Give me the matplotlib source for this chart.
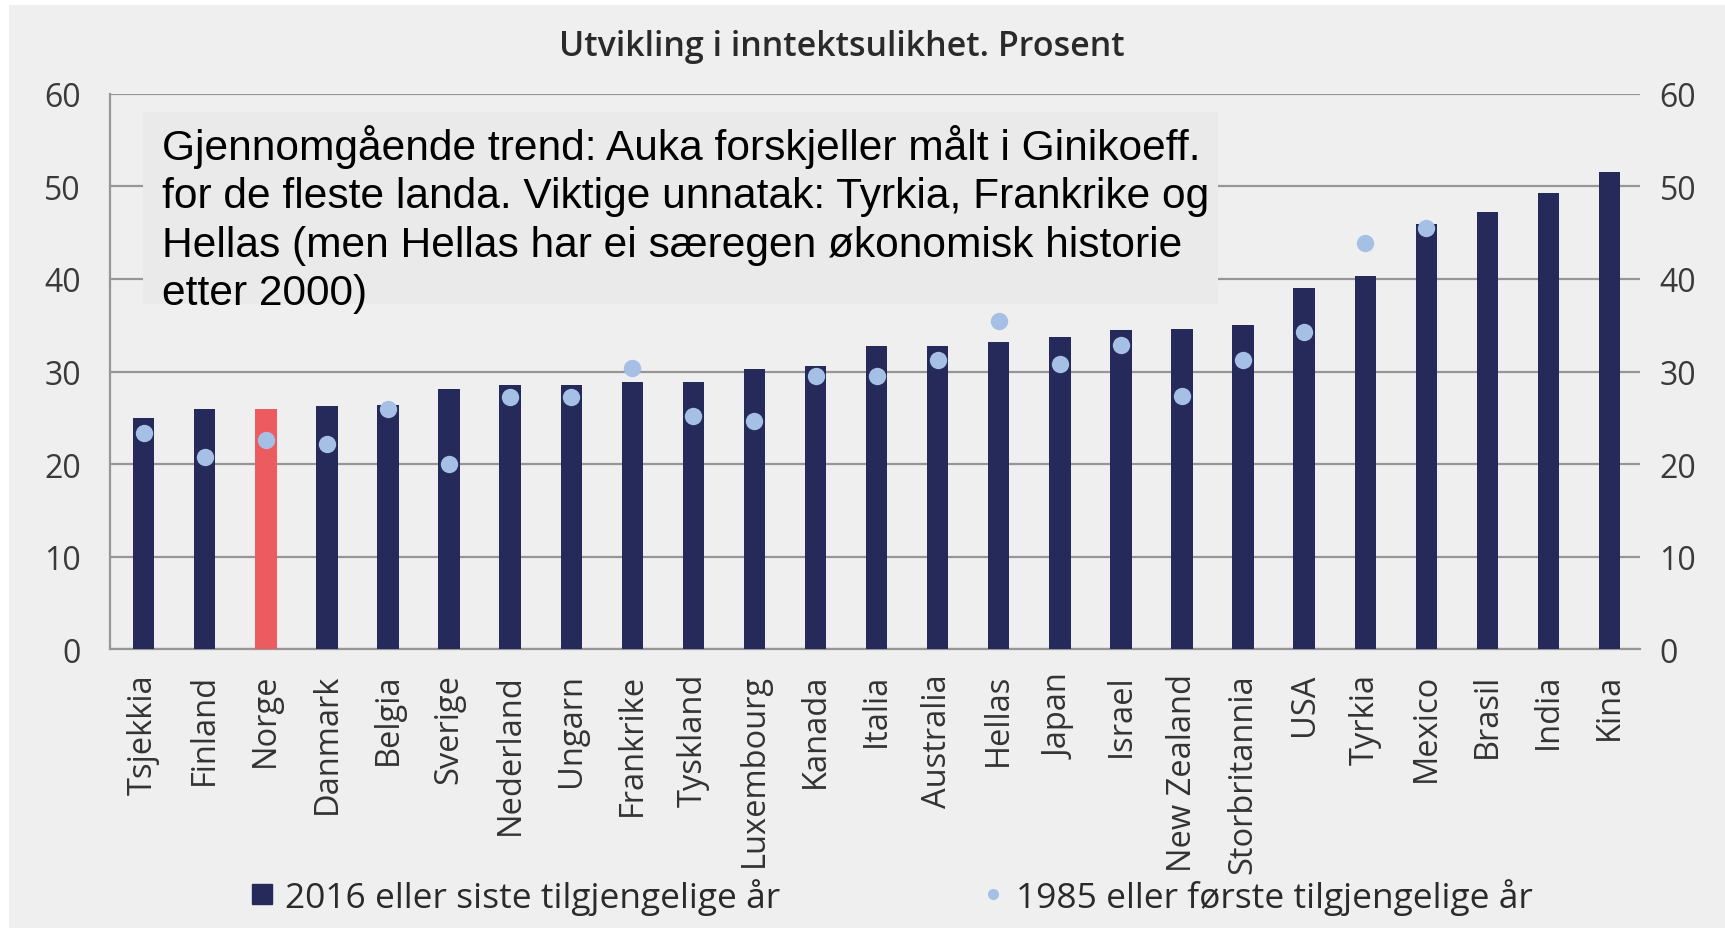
import matplotlib
matplotlib.use('Agg')
import matplotlib.pyplot as plt
from matplotlib.patches import Rectangle
from matplotlib.lines import Line2D

plt.rcParams['font.family'] = ['Open Sans', 'DejaVu Sans']

# data (Gini, per cent)
countries = ['Tsjekkia', 'Finland', 'Norge', 'Danmark', 'Belgia', 'Sverige', 'Nederland',
             'Ungarn', 'Frankrike', 'Tyskland', 'Luxembourg', 'Kanada', 'Italia', 'Australia',
             'Hellas', 'Japan', 'Israel', 'New Zealand', 'Storbritannia', 'USA', 'Tyrkia',
             'Mexico', 'Brasil', 'India', 'Kina']
latest = [25.0, 25.9, 25.9, 26.3, 26.4, 28.1, 28.5, 28.5, 28.9, 28.9, 30.3, 30.6, 32.8, 32.8,
          33.2, 33.7, 34.5, 34.6, 35.0, 39.0, 40.3, 45.9, 47.2, 49.3, 51.5]
first = [23.4, 20.8, 22.6, 22.2, 26.0, 20.0, 27.3, 27.3, 30.4, 25.2, 24.7, 29.5, 29.5, 31.2,
         35.5, 30.8, 32.9, 27.4, 31.2, 34.3, 43.9, 45.5, None, None, None]
highlight = 'Norge'

yticks = [0, 10, 20, 30, 40, 50, 60]
title = 'Utvikling i inntektsulikhet. Prosent'
legend_labels = ['2016 eller siste tilgjengelige år', '1985 eller første tilgjengelige år']
note = ('Gjennomgående trend: Auka forskjeller målt i Ginikoeff.\n'
        'for de fleste landa. Viktige unnatak: Tyrkia, Frankrike og\n'
        'Hellas (men Hellas har ei særegen økonomisk historie\n'
        'etter 2000)')

navy = '#252a5a'
red = '#ec5b60'
dot = '#a6bfe4'
bg = '#efefef'
grid = '#969696'
txt = '#3a3a3a'

fig = plt.figure(figsize=(17.25, 9.29), dpi=100)
fig.patches.append(Rectangle((0.005, 0), 0.995, 0.9935, transform=fig.transFigure,
                             facecolor=bg, edgecolor='none', zorder=-10))

ax = fig.add_axes([0.0638, 0.300, 0.887, 0.598])
ax.set_facecolor('none')

x = list(range(len(countries)))
colors = [red if c == highlight else navy for c in countries]
ax.bar(x, latest, width=0.35, color=colors, zorder=3)
fx = [i for i, v in zip(x, first) if v is not None]
fy = [v for v in first if v is not None]
ax.plot(fx, fy, 'o', color=dot, markersize=12.5, markeredgewidth=0, zorder=4)

ax.set_xlim(-0.55, 24.5)
ax.set_ylim(0, 60)
ax.set_yticks(yticks)
ax.yaxis.grid(True, color=grid, linewidth=1.6, zorder=1)
ax.set_axisbelow(True)
for s in ['top', 'right']:
    ax.spines[s].set_visible(False)
ax.spines['left'].set_color(grid)
ax.spines['left'].set_linewidth(1.6)
ax.spines['bottom'].set_color(grid)
ax.spines['bottom'].set_linewidth(1.6)
ax.tick_params(axis='y', length=0, pad=21, labelsize=23, labelcolor=txt)
ax.set_xticks(x)
ax.set_xticklabels(countries, rotation=90, fontsize=23.5, color='#333333')
ax.tick_params(axis='x', length=0, pad=17)

ax2 = ax.twinx()
ax2.set_ylim(0, 60)
ax2.set_yticks(yticks)
ax2.tick_params(axis='y', length=0, pad=14, labelsize=23, labelcolor=txt)
for s in ['top', 'right', 'left', 'bottom']:
    ax2.spines[s].set_visible(False)

fig.text(0.488, 0.949, title, ha='center', va='center', fontsize=24.5,
         fontweight='semibold', color='#2a2a2a')

# note box over the plot
fig.patches.append(Rectangle((0.0829, 0.6717), 0.6231, 0.2067, transform=fig.transFigure,
                             facecolor='#eaeaea', edgecolor='none', zorder=5))
fig.text(0.0939, 0.865, note, ha='left', va='top', fontsize=30.6,
         family=['Liberation Sans', 'DejaVu Sans'], color='black',
         linespacing=1.26, zorder=6)

handles = [Line2D([], [], marker='s', linestyle='none', color=navy, markersize=15),
           Line2D([], [], marker='o', linestyle='none', color=dot, markersize=8,
                  markeredgewidth=0)]
fig.legend(handles, legend_labels, loc='center', bbox_to_anchor=(0.516, 0.034), ncol=2,
           frameon=False, fontsize=25.5, handlelength=0.8, handletextpad=0.25,
           columnspacing=5.6, labelcolor='#2a2a2a')

fig.savefig('out.png', dpi=100)
